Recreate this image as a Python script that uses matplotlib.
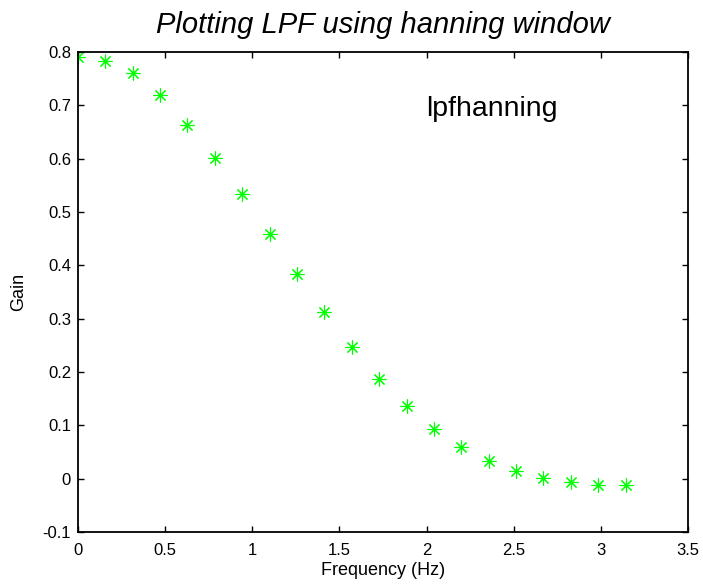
import numpy as np
import matplotlib
matplotlib.use("Agg")
import matplotlib.pyplot as plt

plt.rcParams['font.family'] = ['Liberation Sans', 'DejaVu Sans']

# Frequency samples (0 .. pi in 20 steps) and the filter gain at each
freq = [0.0, 0.157, 0.314, 0.471, 0.628, 0.785, 0.942, 1.100, 1.257, 1.414,
        1.571, 1.728, 1.885, 2.042, 2.199, 2.356, 2.513, 2.670, 2.827, 2.985, 3.142]
gain = [0.791, 0.783, 0.760, 0.720, 0.664, 0.602, 0.534, 0.459, 0.384, 0.313,
        0.247, 0.186, 0.136, 0.094, 0.060, 0.034, 0.015, 0.002, -0.006, -0.012, -0.012]

x_ticks = [0, 0.5, 1, 1.5, 2, 2.5, 3, 3.5]
x_tick_labels = ['0', '0.5', '1', '1.5', '2', '2.5', '3', '3.5']
y_ticks = [-0.1, 0, 0.1, 0.2, 0.3, 0.4, 0.5, 0.6, 0.7, 0.8]
y_tick_labels = ['-0.1', '0', '0.1', '0.2', '0.3', '0.4', '0.5', '0.6', '0.7', '0.8']

fig = plt.figure(figsize=(7.03, 5.85), dpi=100)
ax = fig.add_axes([0.111, 0.0906, 0.8677, 0.8205])

ax.plot(freq, gain, linestyle='none', marker=(8, 2, 0), markersize=10,
        markeredgewidth=0.8, color='#00ff00', markeredgecolor='#00ff00')

ax.set_xlim(0, 3.5)
ax.set_ylim(-0.1, 0.8)
ax.set_xticks(x_ticks)
ax.set_xticklabels(x_tick_labels)
ax.set_yticks(y_ticks)
ax.set_yticklabels(y_tick_labels)

ax.tick_params(direction='in', length=4, width=1, top=True, right=True,
               labelsize=12, colors='black')
ax.tick_params(axis='x', pad=8)
ax.tick_params(axis='y', pad=5)
for s in ax.spines.values():
    s.set_linewidth(1.3)
    s.set_color('black')

ax.set_title('Plotting LPF using hanning window', fontsize=21, style='italic', pad=14)
ax.set_xlabel('Frequency (Hz)', fontsize=13, labelpad=3)
ax.set_ylabel('Gain', fontsize=13)
ax.yaxis.set_label_coords(-0.084, 0.5)

ax.text(2.0, 0.68, 'lpfhanning', fontsize=20.5, ha='left', va='baseline')

fig.savefig('out.png', dpi=100)
